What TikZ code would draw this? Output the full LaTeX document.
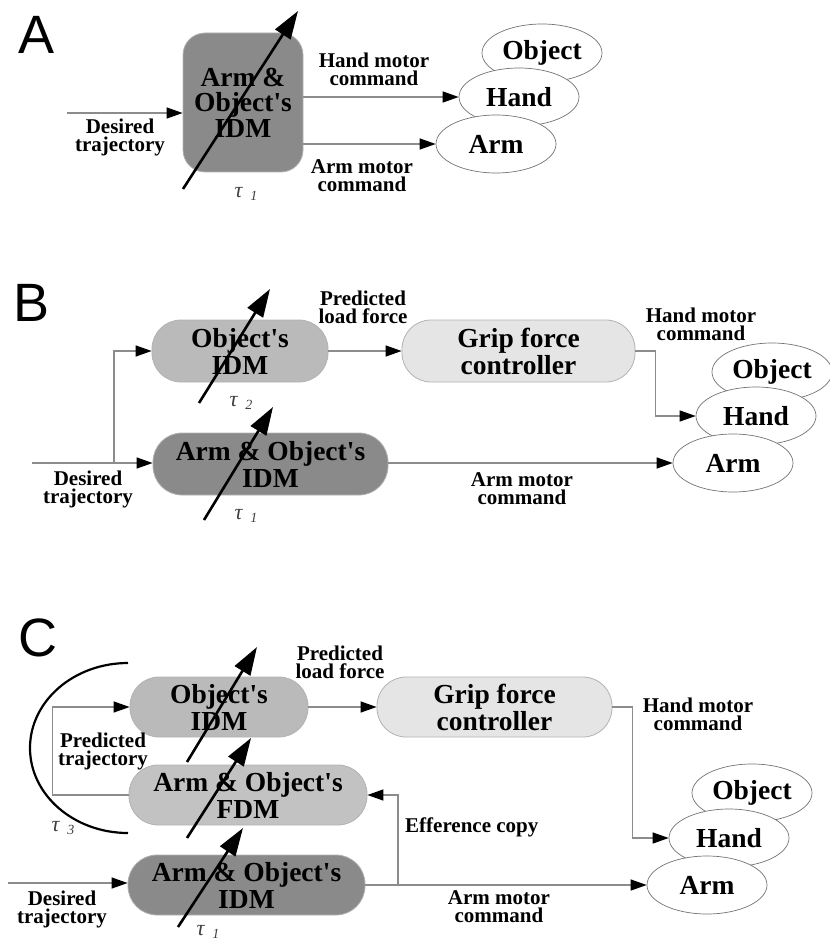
\documentclass[tikz,border=0pt]{standalone}
\usepackage{fontspec}
\setmainfont{Liberation Serif}[Ligatures=TeXOff]
\newfontfamily\lsans{Liberation Sans}
\usetikzlibrary{arrows.meta,shapes.geometric,calc}
\newcommand\mybig{\fontsize{27.5}{27}\selectfont\bfseries}
\newcommand\mylab{\fontsize{21}{18}\selectfont\bfseries}
\newcommand\mytau[1]{\textit{τ}\hspace{7pt}\raisebox{-3pt}{\fontsize{14}{14}\selectfont\textit{#1}}}
\definecolor{gDark}{gray}{0.54}
\definecolor{gMid}{gray}{0.73}
\definecolor{gFdm}{gray}{0.76}
\definecolor{gLight}{gray}{0.90}
\begin{document}
\begin{tikzpicture}[x=1pt,y=-1pt,
  mod/.style={draw=black!30, line width=0.8pt, align=center, inner sep=0pt, font=\mybig, text=black},
  pill/.style={mod, rounded corners=29pt},
  lab/.style={align=center, font=\mylab, inner sep=0pt},
  body/.style={ellipse, draw=black!55, line width=0.7pt, fill=white, minimum width=120pt, minimum height=58pt, inner sep=0pt, font=\mybig},
  conn/.style={draw=black!45, line width=1.3pt, -{Triangle[length=16pt,width=11pt,color=black]}},
  tarrow/.style={line width=2.6pt, -{Triangle[length=28pt,width=18pt]}},
  tau/.style={font=\fontsize{22}{22}\selectfont, text=black!75, inner sep=0pt},
  letter/.style={font=\lsans\fontsize{54}{54}\selectfont, inner sep=0pt}
]
\useasboundingbox (0,0) rectangle (829,941);

% ---------------- Panel A ----------------
\node[letter] (lA) at (37,35) {A};
\node[mod, rounded corners=22pt, fill=gDark, minimum width=120pt, minimum height=139pt, font=\fontsize{27.5}{25.5}\selectfont\bfseries] (idmA) at (243,102.5) {Arm \&\\Object's\\IDM};
\node[body] (objA) at (542,53) {Object};
\node[body] (handA) at (519,97) {Hand};
\node[body] (armA) at (496,144) {Arm};
\coordinate (dA) at (67,113);
\draw[conn] (dA) -- (dA -| idmA.west);
\draw[conn] (idmA.east |- handA.west) -- (handA.west);
\draw[conn] (idmA.east |- armA.west) -- (armA.west);
\node[lab] (ldA) at (120,137) {Desired\\trajectory};
\node[lab] (lhA) at (374,69) {Hand motor\\command};
\node[lab] (laA) at (362,176) {Arm motor\\command};
\coordinate (tA0) at (183,189); \coordinate (tA1) at (298,11);
\draw[tarrow] (tA0) -- (tA1);
\node[tau] (tauA) at (246,194) {\mytau{1}};

% ---------------- Panel B ----------------
\node[letter] (lB) at (32,303) {B};
\node[pill, fill=gMid, minimum width=176pt, minimum height=62pt] (objB) at (240,351) {Object's\\IDM};
\node[pill, fill=gLight, minimum width=233pt, minimum height=62pt] (gripB) at (518.5,351) {Grip force\\controller};
\node[pill, fill=gDark, minimum width=235pt, minimum height=62pt] (armB) at (270.5,464) {Arm \& Object's\\IDM};
\node[body] (objEB) at (772,372) {Object};
\node[body] (handEB) at (756,416) {Hand};
\node[body] (armEB) at (733,463) {Arm};
\coordinate (dB) at (32,463);
\coordinate (brB) at (114,463);
\draw[conn] (dB) -- (dB -| armB.west);
\draw[conn] (brB) |- (objB.west);
\draw[conn] (objB.east) -- (gripB.west);
\draw[conn] (gripB.east) -- ++(20,0) |- (handEB.west);
\draw[conn] (armB.east |- armEB.west) -- (armEB.west);
\node[lab] (ldB) at (88,489) {Desired\\trajectory};
\node[lab] (lpB) at (363,307) {Predicted\\load force};
\node[lab] (lhB) at (701,324) {Hand motor\\command};
\node[lab] (laB) at (522,489) {Arm motor\\command};
\coordinate (tB0) at (199,403); \coordinate (tB1) at (270,289);
\draw[tarrow] (tB0) -- (tB1);
\coordinate (tB2) at (204,520); \coordinate (tB3) at (273,407);
\draw[tarrow] (tB2) -- (tB3);
\node[tau] (tauB2) at (241,403) {\mytau{2}};
\node[tau] (tauB1) at (246,516) {\mytau{1}};

% ---------------- Panel C ----------------
\node[letter] (lC) at (38,638) {C};
\node[pill, fill=gMid, minimum width=178pt, minimum height=60pt] (objC) at (219,707) {Object's\\IDM};
\node[pill, fill=gFdm, minimum width=238pt, minimum height=60pt] (fdmC) at (248,795) {Arm \& Object's\\FDM};
\node[pill, fill=gDark, minimum width=237pt, minimum height=60pt] (idmC) at (246.5,885) {Arm \& Object's\\IDM};
\node[pill, fill=gLight, minimum width=235pt, minimum height=60pt] (gripC) at (494.5,707) {Grip force\\controller};
\node[body] (objEC) at (752,793) {Object};
\node[body] (handEC) at (729,838) {Hand};
\node[body] (armEC) at (707,885) {Arm};
\coordinate (dC) at (8,883);
\draw[conn] (dC) -- (dC -| idmC.west);
\draw[conn] (objC.east) -- (gripC.west);
\draw[conn] (fdmC.west) -- ++(-76,0) |- (objC.west);
\draw[conn] (gripC.east) -- ++(20,0) |- (handEC.west);
\draw[conn] (idmC.east |- armEC.west) -- (armEC.west);
\coordinate (effC) at (398,885);
\draw[conn] (effC) |- (fdmC.east);
\draw[line width=2.2pt] (128,663) arc[start angle=270, end angle=90, x radius=98, y radius=85];
\node[lab] (ldC) at (62,909) {Desired\\trajectory};
\node[lab] (lpC) at (340,662) {Predicted\\load force};
\node[lab] (ltC) at (103,751) {Predicted\\trajectory};
\node[lab] (lhC) at (698,714) {Hand motor\\command};
\node[lab, anchor=west] (leC) at (405,827) {Efference copy};
\node[lab] (laC) at (499,907) {Arm motor\\command};
\coordinate (tC0) at (187,762); \coordinate (tC1) at (257,647);
\draw[tarrow] (tC0) -- (tC1);
\coordinate (tC2) at (187,838); \coordinate (tC3) at (251,738);
\draw[tarrow] (tC2) -- (tC3);
\coordinate (tC4) at (178,927); \coordinate (tC5) at (243,828);
\draw[tarrow] (tC4) -- (tC5);
\node[tau] (tauC3) at (63,828) {\mytau{3}};
\node[tau] (tauC1) at (208,932) {\mytau{1}};
\end{tikzpicture}
\end{document}
